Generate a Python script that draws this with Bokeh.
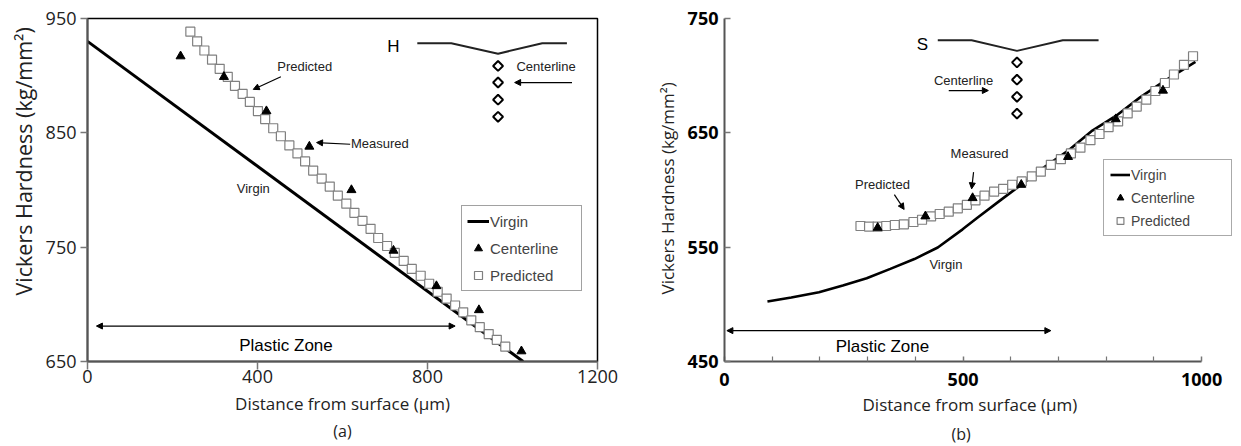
import numpy as np
from bokeh.plotting import figure
from bokeh.layouts import row
from bokeh.models import (Legend, LegendItem, Arrow, NormalHead, Title,
                          FixedTicker, Range1d)
from bokeh.embed import file_html
from bokeh.resources import INLINE
from bokeh.core.properties import value

# ---------------- Panel (a) data ----------------
a_virgin_x = [0, 1025]
a_virgin_y = [930, 650]
a_center_x = [219, 321, 421, 522, 621, 720, 821, 921, 1021]
a_center_y = [917, 899, 869, 838, 800, 747, 716, 695, 659]
a_pred_x = [242, 258, 275, 293, 311, 330, 347, 365, 382, 401, 418, 437, 455, 475,
            494, 512, 531, 551, 570, 589, 609, 628, 647, 666, 684, 705, 723, 744,
            763, 784, 804, 824, 845, 865, 884, 903, 923, 944, 963, 983]
a_pred_y = [938.5, 930, 922, 914, 906, 899, 891, 884, 877, 869, 862, 854, 847, 839,
            832, 825, 817, 810, 803, 795, 788, 780, 773, 766, 758, 751, 745, 738,
            731, 725, 718, 711, 705, 699, 693, 686, 680, 674, 669, 663]
a_xticks = [0, 400, 800, 1200]
a_yticks = [650, 750, 850, 950]
# inset sketch (H)
a_notch_x = [776, 856, 966, 1070, 1128]
a_notch_y = [928.4, 928.4, 919.2, 928.4, 928.4]
a_diam_x = [966, 966, 966, 966]
a_diam_y = [908.5, 894, 879, 864]
# annotations
a_note_text = ["Predicted", "Measured", "Virgin", "Centerline"]
a_note_x = [511, 688, 390, 1079]
a_note_y = [908, 840.6, 801, 908]
a_arrows = [(455, 899, 390, 888), (618, 840, 539, 841.5), (1140, 894, 1005, 894)]
a_zone = (21, 865, 681)

# ---------------- Panel (b) data ----------------
b_virgin_x = [90, 140, 198, 248, 298, 347.5, 398, 447, 499, 530, 580, 622, 672,
              722, 771, 821, 871, 921, 987]
b_virgin_y = [502.5, 506, 510.6, 516.5, 522.8, 531, 539.6, 549.7, 565.6, 575.7,
              591.6, 604.6, 620.5, 635, 652, 665, 681, 695, 712]
b_center_x = [321, 421, 520, 622, 720, 820, 919]
b_center_y = [567, 577, 593, 604.6, 629, 662, 687]
b_pred_x = [285, 303, 321, 339, 357, 376, 396, 414, 433, 451, 470, 489, 508, 526,
            545, 565, 584, 603, 623, 644, 663, 684, 705, 726, 746, 767, 786, 805,
            825, 845, 864, 884, 903, 923, 942, 963, 982]
b_pred_y = [568.5, 568, 568, 568.5, 569.4, 570, 572, 574, 577, 579, 581, 584, 587,
            591, 595, 598.5, 601, 604.6, 607.5, 612, 616, 622, 627, 632, 637, 643.6,
            649, 655, 660, 667, 673, 679, 686.6, 693.6, 701, 709.5, 717]
b_xticks = [0, 500, 1000]
b_xminor = [100, 200, 300, 400, 600, 700, 800, 900]
b_yticks = [450, 550, 650, 750]
b_notch_x = [447, 518, 613, 709, 784]
b_notch_y = [731, 731, 721.7, 731, 731]
b_diam_x = [613, 613, 613, 613]
b_diam_y = [711.6, 696.5, 681.5, 666.8]
b_note_text = ["Centerline", "Measured", "Predicted", "Virgin"]
b_note_x = [501, 534.5, 331, 464]
b_note_y = [696, 631.5, 605, 535]
b_arrows = [(470, 687, 553, 687), (522, 615.6, 518, 601), (356, 596, 376.5, 583)]
b_zone = (5, 684, 477)

X_TITLE = "Distance from surface (μm)"
Y_TITLE = "Vickers Hardness (kg/mm²)"
TICK_FONT = "Open Sans"
TITLE_FONT = "Open Sans"
NOTE_FONT = "Liberation Sans"
H = 446


def style_axes(p, tick_style):
    for ax in (p.xaxis[0], p.yaxis[0]):
        ax.major_label_text_font = TICK_FONT
        ax.major_label_text_font_size = "18px"
        ax.major_label_text_font_style = tick_style
        ax.major_label_text_color = "#222222"
        ax.axis_label_text_font = TITLE_FONT
        ax.axis_label_text_font_style = "normal"
        ax.axis_label_text_color = "#222222"
        ax.axis_line_color = "#555555"
        ax.axis_line_width = 2
        ax.major_tick_line_color = "#777777"
        ax.major_tick_line_width = 1.5
    p.xaxis[0].axis_label_text_font_size = "17px"


def side_title(text, size, align, offset, standoff, v="middle"):
    return Title(text=text, align=align, offset=offset, standoff=standoff,
                 vertical_align=v, text_font=TITLE_FONT, text_font_size=size,
                 text_font_style="normal", text_color="#222222")


def add_arrow(p, x0, y0, x1, y1, both=False):
    end = NormalHead(size=6, fill_color="black", line_color="black")
    start = NormalHead(size=6, fill_color="black", line_color="black") if both else None
    p.add_layout(Arrow(x_start=x0, y_start=y0, x_end=x1, y_end=y1, end=end,
                       start=start, line_color="black", line_width=1.2))


# ---------------- figure (a) ----------------
pa = figure(width=620, height=H, output_backend="svg", toolbar_location=None,
            x_range=Range1d(0, 1200), y_range=Range1d(650, 950),
            min_border_left=87, min_border_right=23, min_border_top=18,
            min_border_bottom=82)
pa.grid.visible = False
pa.outline_line_color = "black"
pa.outline_line_width = 1.5
pa.xaxis.axis_label = X_TITLE
pa.xaxis.ticker = FixedTicker(ticks=a_xticks)
pa.yaxis.ticker = FixedTicker(ticks=a_yticks)
style_axes(pa, "normal")
pa.xaxis.major_tick_out = 8
pa.xaxis.major_tick_in = 0
pa.yaxis.major_tick_out = 7
pa.yaxis.major_tick_in = 0
pa.xaxis.minor_tick_line_color = None
pa.yaxis.minor_tick_line_color = None
pa.xaxis.major_label_standoff = 0
pa.xaxis.axis_label_standoff = 6
pa.yaxis.major_label_standoff = 4
pa.add_layout(side_title(Y_TITLE, "21.5px", "left", 66, 8), "left")

ra_v = pa.line(a_virgin_x, a_virgin_y, line_color="black", line_width=3)
ra_p = pa.scatter(a_pred_x, a_pred_y, marker="square", size=9, fill_color="white",
                  line_color="#808080", line_width=1.2)
ra_c = pa.scatter(a_center_x, a_center_y, marker="triangle", size=9,
                  fill_color="black", line_color="black")
pa.line(a_notch_x, a_notch_y, line_color="#222222", line_width=2)
pa.scatter(a_diam_x, a_diam_y, marker="square", angle=np.pi / 4, size=7,
           fill_color="white", line_color="black", line_width=2)
pa.text(a_note_x, a_note_y, text=a_note_text, text_font=value(NOTE_FONT),
        text_font_size="13px", text_align="center", text_baseline="middle",
        text_color="#222222")
pa.text([720], [925.5], text=["H"], text_font=value(NOTE_FONT),
        text_font_size="17px", text_align="center", text_baseline="middle")
pa.text([467], [664.4], text=["Plastic Zone"], text_font=value(NOTE_FONT),
        text_font_size="17px", text_align="center", text_baseline="middle")
for (x0, y0, x1, y1) in a_arrows:
    add_arrow(pa, x0, y0, x1, y1)
add_arrow(pa, a_zone[0], a_zone[2], a_zone[1], a_zone[2], both=True)

leg_a = Legend(items=[LegendItem(label="Virgin", renderers=[ra_v]),
                      LegendItem(label="Centerline", renderers=[ra_c]),
                      LegendItem(label="Predicted", renderers=[ra_p])],
               location=(374, 70), padding=5, spacing=7, glyph_height=20,
               glyph_width=22, label_standoff=1, label_width=86,
               label_text_font=NOTE_FONT, label_text_font_size="15px",
               border_line_color="#444444", border_line_width=1.2,
               background_fill_alpha=1.0, margin=0)
pa.add_layout(leg_a, "center")
pa.add_layout(side_title("(a)", "16px", "center", 0, 2), "below")

# ---------------- figure (b) ----------------
pb = figure(width=615, height=H, output_backend="svg", toolbar_location=None,
            x_range=Range1d(0, 1071), y_range=Range1d(450, 750),
            min_border_left=104, min_border_right=0, min_border_top=18,
            min_border_bottom=82)
pb.grid.visible = False
pb.outline_line_color = None
pb.xaxis.ticker = FixedTicker(ticks=b_xticks, minor_ticks=b_xminor)
pb.yaxis.ticker = FixedTicker(ticks=b_yticks)
pb.xaxis.bounds = (0, 1000)
style_axes(pb, "bold")
pb.xaxis.major_label_text_color = "black"
pb.yaxis.major_label_text_color = "black"
pb.xaxis.major_tick_out = 0
pb.xaxis.major_tick_in = 5
pb.xaxis.minor_tick_out = 0
pb.xaxis.minor_tick_in = 5
pb.xaxis.minor_tick_line_color = "#777777"
pb.xaxis.minor_tick_line_width = 1.2
pb.yaxis.major_tick_out = 0
pb.yaxis.major_tick_in = 6
pb.yaxis.minor_tick_line_color = None
pb.xaxis.major_label_standoff = 11
pb.yaxis.major_label_standoff = 6
pb.add_layout(side_title(Y_TITLE, "17px", "left", 67, 9), "left")
pb.add_layout(side_title(X_TITLE, "17px", "left", 138, 7), "below")

rb_v = pb.line(b_virgin_x, b_virgin_y, line_color="black", line_width=2.6)
rb_p = pb.scatter(b_pred_x, b_pred_y, marker="square", size=9, fill_color="white",
                  line_color="#808080", line_width=1.2)
rb_c = pb.scatter(b_center_x, b_center_y, marker="triangle", size=9,
                  fill_color="black", line_color="black")
pb.line(b_notch_x, b_notch_y, line_color="#222222", line_width=2)
pb.scatter(b_diam_x, b_diam_y, marker="square", angle=np.pi / 4, size=7,
           fill_color="white", line_color="black", line_width=2)
pb.text(b_note_x, b_note_y, text=b_note_text, text_font=value(NOTE_FONT),
        text_font_size="13px", text_align="center", text_baseline="middle",
        text_color="#222222")
pb.text([415], [727], text=["S"], text_font=value(NOTE_FONT),
        text_font_size="17px", text_align="center", text_baseline="middle")
pb.text([331], [463], text=["Plastic Zone"], text_font=value(NOTE_FONT),
        text_font_size="17px", text_align="center", text_baseline="middle")
for (x0, y0, x1, y1) in b_arrows:
    add_arrow(pb, x0, y0, x1, y1)
add_arrow(pb, b_zone[0], b_zone[2], b_zone[1], b_zone[2], both=True)

leg_b = Legend(items=[LegendItem(label="Virgin", renderers=[rb_v]),
                      LegendItem(label="Centerline", renderers=[rb_c]),
                      LegendItem(label="Predicted", renderers=[rb_p])],
               location=(379, 125), padding=6, spacing=6, glyph_height=17,
               glyph_width=20, label_standoff=1, label_width=94,
               label_text_font=NOTE_FONT, label_text_font_size="14px",
               border_line_color="#555555", border_line_width=1.2,
               background_fill_alpha=1.0, margin=0)
pb.add_layout(leg_b, "center")
pb.add_layout(side_title("(b)", "16px", "left", 227, 2), "below")

layout = row(pa, pb)
open("out.html", "w").write(file_html(layout, INLINE))
